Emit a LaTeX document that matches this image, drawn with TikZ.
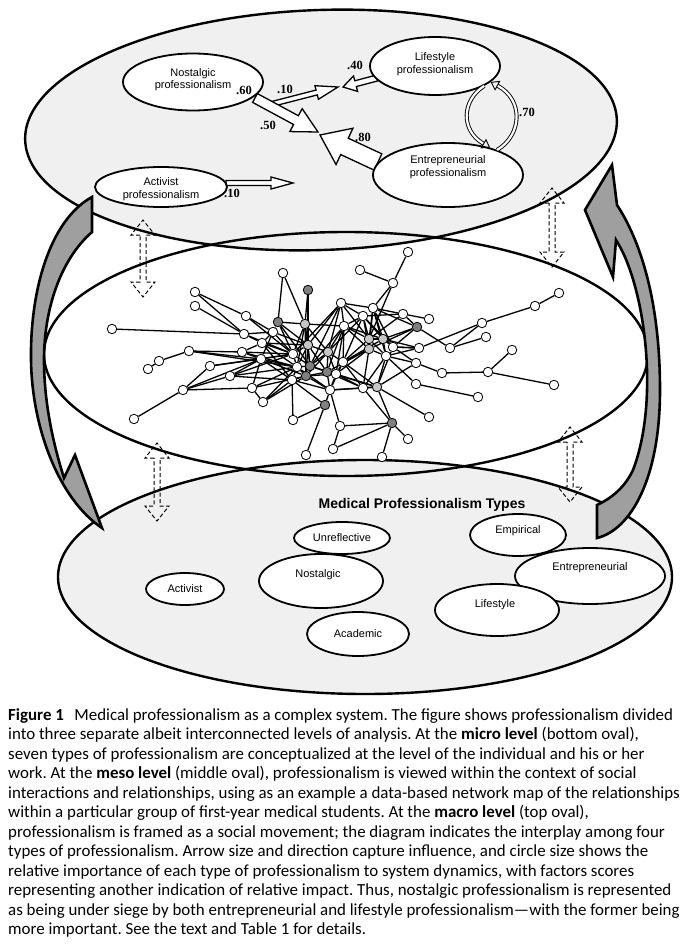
\documentclass[tikz,border=0pt]{standalone}
\usepackage{fontspec}
\setmainfont{Liberation Sans}
\newfontfamily\capfont{Carlito}
\newfontfamily\numfont{Liberation Serif}
\usetikzlibrary{arrows.meta,shapes.geometric}
\pgfdeclarelayer{back}
\pgfdeclarelayer{edges}
\pgfsetlayers{back,edges,main}
\newcommand{\blockarr}[7]{%
 \pgfmathsetmacro\baDX{#3-#1}%
 \pgfmathsetmacro\baDY{#4-#2}%
 \pgfmathsetmacro\baL{veclen(\baDX,\baDY)}%
 \pgfmathsetmacro\baUX{\baDX/\baL}%
 \pgfmathsetmacro\baUY{\baDY/\baL}%
 \pgfmathsetmacro\baB{\baL-#7}%
 \draw[blockarrow] ({#1-#5*\baUY},{#2+#5*\baUX}) -- ({#1+\baB*\baUX-#5*\baUY},{#2+\baB*\baUY+#5*\baUX}) -- ({#1+\baB*\baUX-#6*\baUY},{#2+\baB*\baUY+#6*\baUX}) -- (#3,#4) -- ({#1+\baB*\baUX+#6*\baUY},{#2+\baB*\baUY-#6*\baUX}) -- ({#1+\baB*\baUX+#5*\baUY},{#2+\baB*\baUY-#5*\baUX}) -- ({#1+#5*\baUY},{#2-#5*\baUX}) -- cycle;}
\newcommand{\dasharr}[3]{%
 \draw[dashar] (#1-3,#2+15) -- (#1-12,#2+15) -- (#1,#2) -- (#1+12,#2+15) -- (#1+3,#2+15) -- (#1+3,#3-15) -- (#1+12,#3-15) -- (#1,#3) -- (#1-12,#3-15) -- (#1-3,#3-15) -- cycle;}
\tikzset{
 bigoval/.style={line width=2.4pt},
 lab/.style={ellipse, draw, line width=1.8pt, fill=white, inner sep=0pt},
 labtxt/.style={font=\fontsize{11}{12.5}\selectfont, align=center, inner sep=0pt},
 numtxt/.style={font=\numfont\bfseries\fontsize{12.5}{14}\selectfont, inner sep=0pt},
 blockarrow/.style={draw, line width=1.3pt, fill=white, line join=miter},
 dashar/.style={draw, dash pattern=on 4pt off 2.5pt, line width=1pt},
 grayarrow/.style={draw, line width=2.6pt, fill=gray!75, line join=miter},
 dblarrow/.style={line width=0.9pt, double=white, double distance=2.2pt, -{Triangle[open, length=8pt, width=11pt]}},
 netw/.style={circle, draw, line width=0.8pt, minimum size=9.5pt, inner sep=0pt, fill=white},
 netl/.style={netw, fill=gray!45},
 netd/.style={netw, fill=gray},
 netedge/.style={line width=1.3pt}
}
\begin{document}
\begin{tikzpicture}[x=1pt,y=-1pt]
\useasboundingbox (0,0) rectangle (683,944);
% ovals
\begin{pgfonlayer}{back}
\fill[white] (346,354) ellipse [x radius=302, y radius=122];
\fill[gray!12, rotate around={2:(321,130)}] (321,130) ellipse [x radius=296, y radius=120];
\fill[gray!12] (365,577) ellipse [x radius=307, y radius=117];
\draw[bigoval] (346,354) ellipse [x radius=302, y radius=122];
\draw[bigoval, rotate around={2:(321,130)}] (321,130) ellipse [x radius=296, y radius=120];
\draw[bigoval] (365,577) ellipse [x radius=307, y radius=117];
\end{pgfonlayer}

% ---------- top oval (macro level)
\blockarr{272}{104}{338}{87}{2.5}{7}{22}
\blockarr{377}{78}{343}{87}{3}{8}{13}
\blockarr{255}{98}{318}{132}{5}{13}{25}
\blockarr{378}{162}{320}{135}{9}{20}{27}
\blockarr{226}{183}{293}{183}{2.5}{6}{22}

\node[lab, minimum width=140pt, minimum height=57pt] (nost) at (193,82) {};
\node[labtxt] (nostT) at (193,79.5) {Nostalgic\\professionalism};
\node[lab, minimum width=130pt, minimum height=58pt] (life) at (435,66) {};
\node[labtxt] (lifeT) at (435,64) {Lifestyle\\professionalism};
\node[lab, minimum width=150pt, minimum height=64pt] (ent) at (448,175) {};
\node[labtxt] (entT) at (448,167) {Entrepreneurial\\professionalism};
\node[lab, minimum width=132pt, minimum height=40pt] (act) at (161,187) {};
\node[labtxt] (actT) at (161,189) {Activist\\professionalism};

\draw[dblarrow] (life.-22) .. controls (462,100) and (460,130) .. (ent.33);
\draw[dblarrow] (ent.27) .. controls (522,135) and (524,100) .. (life.-16);

\node[numtxt] (v60) at (244,90) {.60};
\node[numtxt] (v10a) at (285,89) {.10};
\node[numtxt] (v50) at (268,125) {.50};
\node[numtxt] (v80) at (363,137) {.80};
\node[numtxt] (v40) at (355,65) {.40};
\node[numtxt] (v70) at (527,112) {.70};
\node[numtxt] (v10b) at (232,193) {.10};

% ---------- big gray arrows
\draw[grayarrow] (612,165) -- (585,210) -- (613,277) -- (616,240)
  .. controls (645,285) and (660,400) .. (633,470)
  .. controls (625,487) and (612,498) .. (597,505) -- (597,538)
  .. controls (630,530) and (660,480) .. (660,390)
  .. controls (660,300) and (640,240) .. (617,205) -- cycle;
\draw[grayarrow] (92,197) -- (92,232)
  .. controls (60,260) and (44,310) .. (44,360)
  .. controls (44,400) and (52,440) .. (64,478)
  -- (75,455) -- (102,528)
  .. controls (60,500) and (32,430) .. (31,360)
  .. controls (30,290) and (50,220) .. (92,197) -- cycle;

% ---------- dashed two-headed arrows
\dasharr{143}{220}{297}
\dasharr{552}{188}{267}
\dasharr{157}{443}{521}
\dasharr{570}{427}{502}

% ---------- network (meso level)
\foreach \i/\x/\y/\s in {1/283/273/w,2/308/290/d,3/195/292/w,4/195/306/w,5/246/316/w,6/278/322/d,7/305/324/l,8/341/303/w,9/360/270/w,10/393/283/w,11/408/252/w,12/373/308/w,13/363/316/w,14/344/326/w,15/112/329/w,16/244/334/w,17/273/332/w,18/262/343/w,19/308/345/l,20/328/352/l,21/369/339/l,22/383/339/l,23/369/349/l,24/393/347/w,25/386/356/w,26/189/351/w,27/242/352/w,28/293/354/w,29/261/359/w,30/159/361/w,31/148/369/w,32/210/366/w,33/297/367/w,34/310/366/d,35/343/362/w,36/230/376/w,37/306/376/d,38/327/372/d,39/336/374/w,40/292/380/w,41/183/390/w,42/252/388/w,43/330/390/w,44/363/388/w,45/377/387/l,46/263/402/w,47/325/405/d,48/134/419/w,49/293/420/w,50/340/426/w,51/392/423/d,52/333/449/w,53/306/455/w,54/382/457/w,55/403/314/w,56/429/319/w,57/417/327/d,58/559/293/w,59/535/306/w,60/482/323/w,61/486/337/w,62/419/348/w,63/450/348/w,64/512/350/w,65/416/363/w,66/442/373/w,67/488/372/w,68/554/385/w,69/416/384/w,70/478/397/w,71/429/417/w,72/408/439/w}
  \node[net\s] (n\i) at (\x,\y) {};
\begin{pgfonlayer}{edges}
\foreach \a/\b in {1/6,1/7,2/7,8/19,8/20,8/28,11/10,9/10,10/12,12/23,12/21,13/22,13/20,3/5,3/16,4/16,5/17,16/18,15/16,31/30,30/26,26/27,27/29,41/32,41/48,41/36,41/42,41/29,32/29,36/40,42/46,46/40,49/40,49/47,47/53,47/43,50/52,50/51,52/51,51/72,51/54,51/45,45/71,45/44,59/58,59/60,60/62,60/63,61/63,63/57,57/55,55/56,62/24,64/67,67/66,66/65,67/68,69/70,65/25,55/12,
 6/7,6/17,6/19,6/28,7/19,7/20,7/14,7/28,7/33,8/14,8/34,14/21,14/20,14/23,14/35,13/21,13/23,12/22,12/24,21/22,21/23,22/24,22/25,23/25,23/35,23/38,23/39,20/19,20/38,20/34,20/35,19/34,19/37,19/28,28/33,28/17,28/18,17/18,17/29,18/27,18/33,29/33,29/37,27/28,16/17,33/34,34/37,34/38,37/38,38/39,39/35,35/43,35/44,37/40,37/43,38/43,38/44,39/44,39/45,44/45,43/45,40/33,40/47,43/50,44/51,45/25,24/45,25/44,24/65,22/57,21/55,36/28,36/29,32/28,42/33,42/37,46/37,26/33,14/22,13/14,8/13,25/69,24/62,
 6/34,7/37,17/19,19/33,20/37,14/34,14/38,13/35,12/25,21/35,21/25,23/44,35/45,38/45,39/43,33/37,29/40,18/40,27/33,16/28,5/28,28/34,34/39,20/39,7/34,8/21,8/12,13/24,10/21,22/62,25/62,24/57,23/57,45/65,43/44,40/43,33/43,37/39,19/38,26/29,42/29,36/33,46/33,2/19,14/39,22/35,12/57,13/55,18/19,29/28}
  \draw[netedge] (n\a) -- (n\b);
\end{pgfonlayer}

% ---------- bottom oval (micro level)
\node[font=\bfseries\fontsize{14}{16}\selectfont, inner sep=0pt] (title) at (422,505) {Medical Professionalism Types};
\node[lab, minimum width=96pt, minimum height=32pt] (unre) at (342,538) {};
\node[labtxt] (unreT) at (342,538) {Unreflective};
\node[lab, minimum width=96pt, minimum height=42pt] (emp) at (518,535) {};
\node[labtxt] (empT) at (518,531) {Empirical};
\node[lab, minimum width=150pt, minimum height=56pt] (entb) at (590,576) {};
\node[labtxt] (entbT) at (590,568) {Entrepreneurial};
\node[lab, minimum width=78pt, minimum height=32pt] (actb) at (185,589) {};
\node[labtxt] (actbT) at (185,589) {Activist};
\node[lab, minimum width=124pt, minimum height=54pt] (nostb) at (321,581) {};
\node[labtxt] (nostbT) at (318,575) {Nostalgic};
\node[lab, minimum width=124pt, minimum height=52pt] (lifeb) at (497,610) {};
\node[labtxt] (lifebT) at (495,605) {Lifestyle};
\node[lab, minimum width=102pt, minimum height=44pt] (acad) at (358,634) {};
\node[labtxt] (acadT) at (358,634) {Academic};

% ---------- caption
\node[anchor=north west, inner sep=0pt, align=left, font=\capfont\frenchspacing\fontsize{16.9}{19.5}\selectfont] (cap) at (8,708) {%
\textbf{Figure 1}\hspace{0.4em} Medical professionalism as a complex system. The figure shows professionalism divided\\
into three separate albeit interconnected levels of analysis. At the \textbf{micro level} (bottom oval),\\
seven types of professionalism are conceptualized at the level of the individual and his or her\\
work. At the \textbf{meso level} (middle oval), professionalism is viewed within the context of social\\
interactions and relationships, using as an example a data-based network map of the relationships\\
within a particular group of first-year medical students. At the \textbf{macro level} (top oval),\\
professionalism is framed as a social movement; the diagram indicates the interplay among four\\
types of professionalism. Arrow size and direction capture influence, and circle size shows the\\
relative importance of each type of professionalism to system dynamics, with factors scores\\
representing another indication of relative impact. Thus, nostalgic professionalism is represented\\
as being under siege by both entrepreneurial and lifestyle professionalism—with the former being\\
more important. See the text and Table 1 for details.};
\end{tikzpicture}
\end{document}
